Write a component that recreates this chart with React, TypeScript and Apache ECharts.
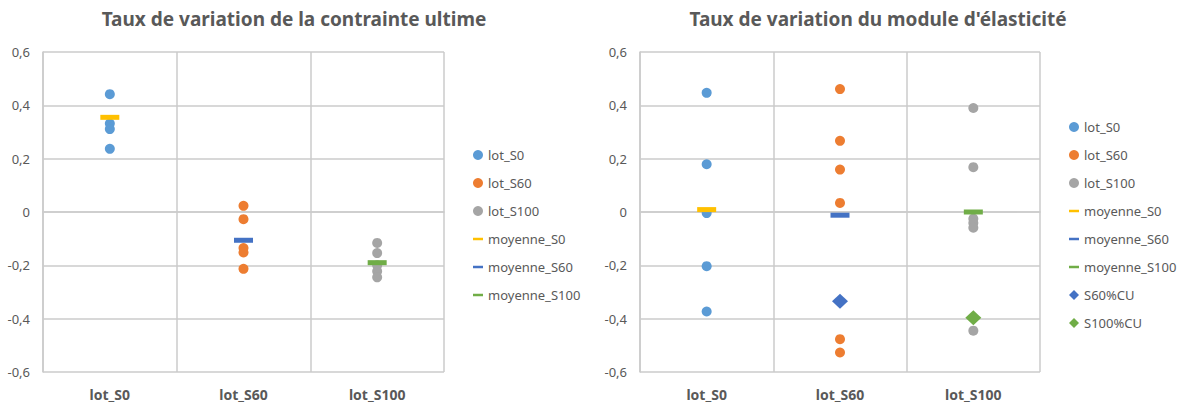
import React, { useEffect, useRef } from "react";
import * as echarts from "echarts";

const categories = ["lot_S0", "lot_S60", "lot_S100"];

// Left chart: Taux de variation de la contrainte ultime
const cuLotS0 = [0.442, 0.332, 0.311, 0.237];
const cuLotS60 = [0.023, -0.027, -0.135, -0.152, -0.213];
const cuLotS100 = [-0.116, -0.154, -0.2, -0.222, -0.245];
const cuMeans = [0.355, -0.106, -0.19];

// Right chart: Taux de variation du module d'élasticité
const meLotS0 = [0.447, 0.179, -0.004, -0.203, -0.373];
const meLotS60 = [0.461, 0.267, 0.159, 0.034, -0.477, -0.527];
const meLotS100 = [0.39, 0.168, -0.025, -0.041, -0.059, -0.445];
const meMeans = [0.009, -0.012, 0.0];
const s60CU = -0.335;
const s100CU = -0.397;

const titles = [
  "Taux de variation de la contrainte ultime",
  "Taux de variation du module d'élasticité",
];

const C_S0 = "#5B9BD5";
const C_S60 = "#ED7D31";
const C_S100 = "#A5A5A5";
const C_M0 = "#FFC000";
const C_M60 = "#4472C4";
const C_M100 = "#70AD47";

const GRID = "#cbcbcb";
const TXT = "#595959";
const FONT = "'Noto Sans', 'Open Sans', sans-serif";
const DASH_ICON = "path://M0,0H20V5H0Z";

function pts(cat: number, vals: number[]) {
  return vals.map((v) => [cat, v]);
}

export default function App() {
  const ref = useRef<HTMLDivElement>(null);
  useEffect(() => {
    if (!ref.current) return;
    const chart = echarts.init(ref.current, undefined, { renderer: "svg" });

    const fmt = (v: number) => {
      if (Math.abs(v) < 1e-9) return "0";
      return (Math.round(v * 10) / 10).toFixed(1).replace(".", ",");
    };

    const xAxisBase = (gridIndex: number) => ({
      type: "category" as const,
      gridIndex,
      data: categories,
      boundaryGap: true,
      axisTick: { show: false },
      axisLine: { show: true, lineStyle: { color: GRID, width: 1.5 } },
      splitLine: { show: true, lineStyle: { color: GRID, width: 1.5 } },
      axisLabel: {
        color: TXT,
        fontFamily: FONT,
        fontSize: 14,
        fontWeight: "bold" as const,
        margin: 15,
      },
    });
    const yAxisBase = (gridIndex: number) => ({
      type: "value" as const,
      gridIndex,
      min: -0.6,
      max: 0.6,
      interval: 0.2,
      axisTick: { show: false },
      axisLine: { show: true, lineStyle: { color: GRID, width: 1.5 } },
      splitLine: { show: true, lineStyle: { color: GRID, width: 1.5 } },
      axisLabel: {
        color: TXT,
        fontFamily: FONT,
        fontSize: 13,
        margin: 13,
        formatter: fmt,
      },
    });

    const dot = (name: string, color: string, idx: number, data: number[][], z = 2) => ({
      type: "scatter" as const,
      name,
      xAxisIndex: idx,
      yAxisIndex: idx,
      symbol: "circle",
      symbolSize: 10,
      itemStyle: { color, opacity: 1 },
      data,
      z,
    });
    const dash = (name: string, color: string, idx: number, data: number[][]) => ({
      type: "scatter" as const,
      name,
      xAxisIndex: idx,
      yAxisIndex: idx,
      symbol: "rect",
      symbolSize: [19, 5],
      itemStyle: { color, opacity: 1 },
      data,
      z: 3,
    });
    const diamond = (name: string, color: string, idx: number, data: number[][]) => ({
      type: "scatter" as const,
      name,
      xAxisIndex: idx,
      yAxisIndex: idx,
      symbol: "diamond",
      symbolSize: [16, 15],
      itemStyle: { color, opacity: 1 },
      data,
      z: 4,
    });

    const legendText = { color: TXT, fontFamily: FONT, fontSize: 13, lineHeight: 14 };

    chart.setOption({
      animation: false,
      backgroundColor: "#ffffff",
      graphic: [
        {
          type: "text",
          x: 294,
          y: 19,
          style: {
            text: titles[0],
            fill: TXT,
            font: `bold 19px ${FONT}`,
            textAlign: "center",
            textVerticalAlign: "middle",
          },
        },
        {
          type: "text",
          x: 878,
          y: 19,
          style: {
            text: titles[1],
            fill: TXT,
            font: `bold 19px ${FONT}`,
            textAlign: "center",
            textVerticalAlign: "middle",
          },
        },
      ],
      grid: [
        { left: 43, right: 1177 - 444, top: 52, bottom: 404 - 372 },
        { left: 640, right: 1177 - 1040, top: 52, bottom: 404 - 372 },
      ],
      xAxis: [xAxisBase(0), xAxisBase(1)],
      yAxis: [yAxisBase(0), yAxisBase(1)],
      legend: [
        {
          orient: "vertical",
          left: 468,
          top: 143,
          itemWidth: 10,
          itemHeight: 10,
          itemGap: 14,
          selectedMode: false,
          textStyle: legendText,
          data: [
            { name: "lot_S0", icon: "circle" },
            { name: "lot_S60", icon: "circle" },
            { name: "lot_S100", icon: "circle" },
            { name: "moyenne_S0", icon: DASH_ICON },
            { name: "moyenne_S60", icon: DASH_ICON },
            { name: "moyenne_S100", icon: DASH_ICON },
          ],
        },
        {
          orient: "vertical",
          left: 1064,
          top: 115,
          itemWidth: 10,
          itemHeight: 10,
          itemGap: 14,
          selectedMode: false,
          textStyle: legendText,
          data: [
            { name: "lot_S0", icon: "circle" },
            { name: "lot_S60", icon: "circle" },
            { name: "lot_S100", icon: "circle" },
            { name: "moyenne_S0", icon: DASH_ICON },
            { name: "moyenne_S60", icon: DASH_ICON },
            { name: "moyenne_S100", icon: DASH_ICON },
            { name: "S60%CU", icon: "diamond" },
            { name: "S100%CU", icon: "diamond" },
          ],
        },
      ],
      series: [
        dot("lot_S0", C_S0, 0, pts(0, cuLotS0)),
        dot("lot_S60", C_S60, 0, pts(1, cuLotS60)),
        dot("lot_S100", C_S100, 0, pts(2, cuLotS100)),
        dash("moyenne_S0", C_M0, 0, [[0, cuMeans[0]]]),
        dash("moyenne_S60", C_M60, 0, [[1, cuMeans[1]]]),
        dash("moyenne_S100", C_M100, 0, [[2, cuMeans[2]]]),

        dot("lot_S0", C_S0, 1, pts(0, meLotS0)),
        dot("lot_S60", C_S60, 1, pts(1, meLotS60)),
        dot("lot_S100", C_S100, 1, pts(2, meLotS100)),
        dash("moyenne_S0", C_M0, 1, [[0, meMeans[0]]]),
        dash("moyenne_S60", C_M60, 1, [[1, meMeans[1]]]),
        dash("moyenne_S100", C_M100, 1, [[2, meMeans[2]]]),
        diamond("S60%CU", C_M60, 1, [[1, s60CU]]),
        diamond("S100%CU", C_M100, 1, [[2, s100CU]]),
      ],
    });
    return () => chart.dispose();
  }, []);

  return (
    <div
      ref={ref}
      style={{ position: "absolute", left: 0, top: 0, width: 1177, height: 404, background: "#fff" }}
    />
  );
}
